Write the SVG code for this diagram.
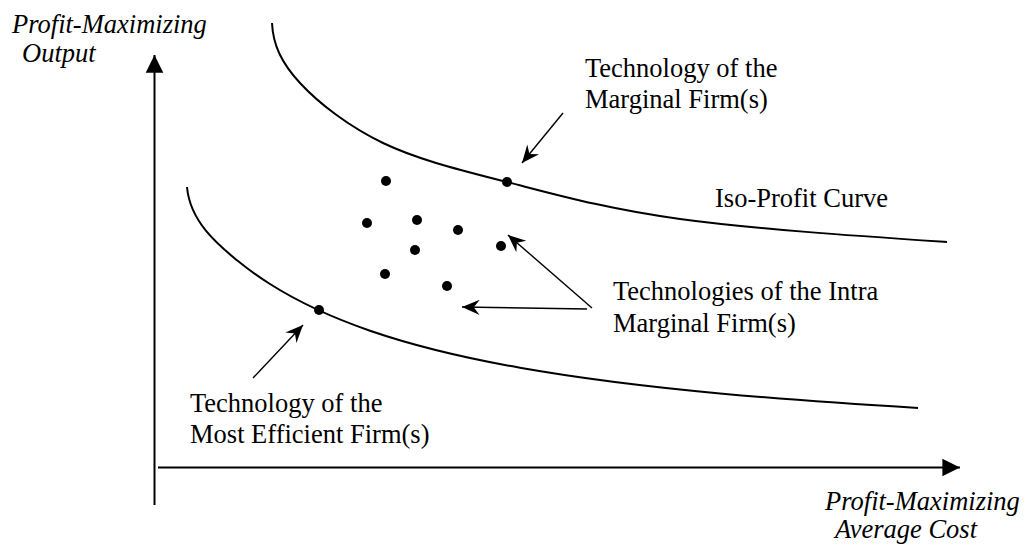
<svg xmlns="http://www.w3.org/2000/svg" width="1026" height="546" viewBox="0 0 1026 546">
<style>
.t{font-family:"Liberation Serif","Times New Roman",serif;font-size:26.5px;fill:#000}
.i{font-style:italic}
.ax{stroke:#000;stroke-width:2;fill:none}
.cv{stroke:#000;stroke-width:2;fill:none}
.ar{stroke:#000;stroke-width:1.4;fill:none}
.dot{fill:#000}
</style>
<defs>
<marker id="tri" markerUnits="userSpaceOnUse" markerWidth="20" markerHeight="20" viewBox="-16 -8 17 16" refX="0" refY="0" orient="auto">
<path d="M0,0 L-15,-7.5 L-15,7.5 Z" fill="#000"/>
</marker>
<marker id="notch" markerUnits="userSpaceOnUse" markerWidth="20" markerHeight="20" viewBox="-16 -8 17 16" refX="0" refY="0" orient="auto">
<path d="M0,0 L-15,-6.5 L-10,0 L-15,6.5 Z" fill="#000"/>
</marker>
</defs>
<rect width="1026" height="546" fill="#fff"/>
<g id="axes">
<line class="ax" x1="154.5" y1="505" x2="154.5" y2="55" marker-end="url(#tri)"/>
<line class="ax" x1="158" y1="467.5" x2="960" y2="467.5" marker-end="url(#tri)"/>
<text class="t i" x="12" y="33">Profit-Maximizing</text>
<text class="t i" x="22" y="62">Output</text>
<text class="t i" x="825" y="510">Profit-Maximizing</text>
<text class="t i" x="835" y="538">Average Cost</text>
</g>
<g id="upper-curve">
<path class="cv" d="M272,23 C273,45 281.5,63 300,83 C318.5,103 348.5,126.5 383,143 C417.5,159.5 457.5,169.3 507,182 C556.5,194.7 606.7,209 680,219 C753.3,229 858,236 947,242"/>
<circle class="dot" cx="507" cy="182" r="5"/>
<text class="t" x="715" y="207">Iso-Profit Curve</text>
</g>
<g id="lower-curve">
<path class="cv" d="M187,187 C190,222 219,245.6 237,260.3 C248,269.3 259,277 270,284 C303.3,305.1 336.7,319.2 370,330.7 C420,347.9 470,358.9 520,367.7 C586.7,379.5 653.3,387.2 720,393.4 C786,399.6 852,404.1 918,408"/>
<circle class="dot" cx="319" cy="310" r="5"/>
</g>
<g id="intra-dots">
<circle class="dot" cx="386" cy="181" r="5"/>
<circle class="dot" cx="367" cy="223" r="5"/>
<circle class="dot" cx="417" cy="220" r="5"/>
<circle class="dot" cx="458" cy="230" r="5"/>
<circle class="dot" cx="415" cy="250" r="5"/>
<circle class="dot" cx="501" cy="246" r="5"/>
<circle class="dot" cx="385" cy="274" r="5"/>
<circle class="dot" cx="447" cy="286" r="5"/>
</g>
<g id="label-marginal">
<text class="t" x="585" y="77">Technology of the</text>
<text class="t" x="585" y="108">Marginal Firm(s)</text>
</g>
<g id="label-intra">
<text class="t" x="613" y="300">Technologies of the Intra</text>
<text class="t" x="613" y="332">Marginal Firm(s)</text>
</g>
<g id="label-efficient">
<text class="t" x="190" y="412">Technology of the</text>
<text class="t" x="190" y="443">Most Efficient Firm(s)</text>
</g>
<g id="connectors">
<line class="ar" x1="563" y1="113" x2="522" y2="163" marker-end="url(#notch)"/>
<line class="ar" x1="592" y1="308" x2="508" y2="235" marker-end="url(#notch)"/>
<line class="ar" x1="587" y1="309" x2="462" y2="307" marker-end="url(#notch)"/>
<line class="ar" x1="253" y1="378" x2="303" y2="325" marker-end="url(#notch)"/>
</g>
</svg>
